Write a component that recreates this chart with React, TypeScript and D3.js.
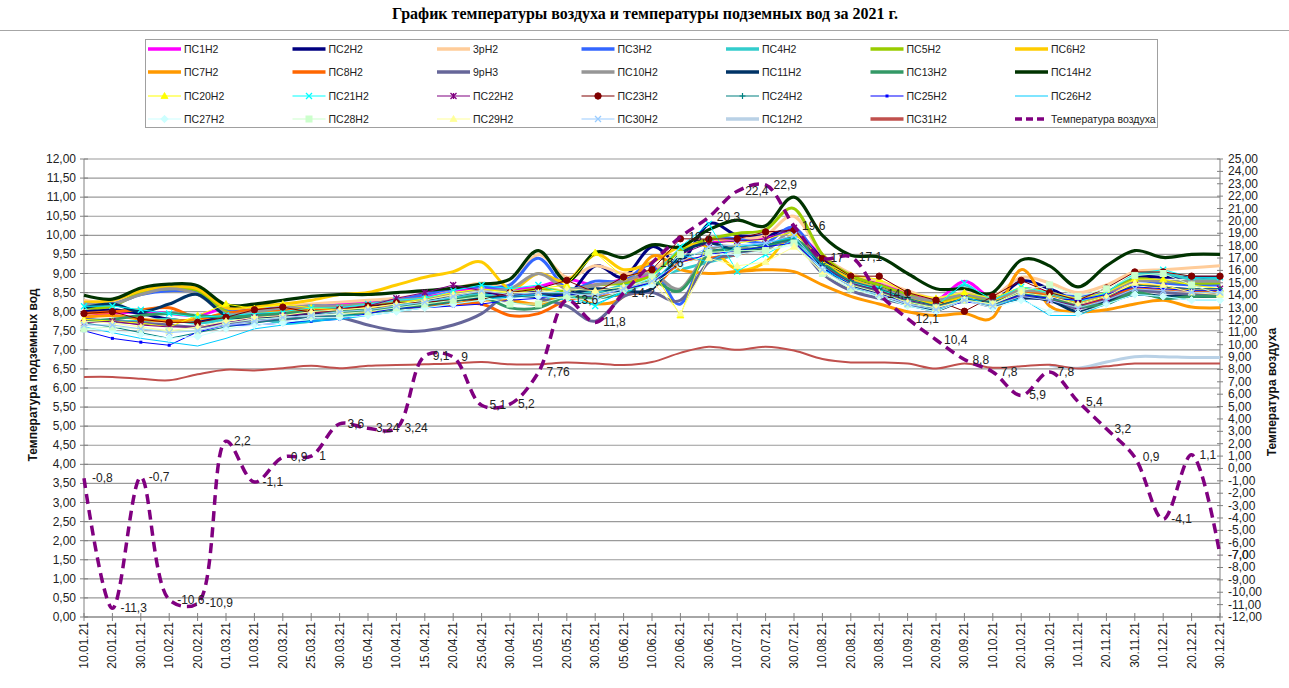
import React from 'react';
import * as d3 from 'd3';

const categories = ["10.01.21","20.01.21","30.01.21","10.02.21","20.02.21","01.03.21","10.03.21","20.03.21","25.03.21","30.03.21","05.04.21","10.04.21","15.04.21","20.04.21","25.04.21","30.04.21","10.05.21","20.05.21","30.05.21","05.06.21","10.06.21","20.06.21","30.06.21","10.07.21","20.07.21","30.07.21","10.08.21","20.08.21","30.08.21","10.09.21","20.09.21","30.09.21","10.10.21","20.10.21","30.10.21","10.11.21","20.11.21","30.11.21","10.12.21","20.12.21","30.12.21"];

const airTemp = [-0.8,-11.3,-0.7,-10.6,-10.9,2.2,-1.1,0.9,1,3.6,3.24,3.24,9.1,9,5.1,5.2,7.76,13.6,11.8,14.2,16.6,18.7,20.3,22.4,22.9,19.6,17,17.1,14.1,12.1,10.4,8.8,7.8,5.9,7.8,5.4,3.2,0.9,-4.1,1.1,-7.0];
const airLabels = ["-0,8","-11,3","-0,7","-10,6","-10,9","2,2","-1,1","0,9","1","3,6","3,24","3,24","9,1","9","5,1","5,2","7,76","13,6","11,8","14,2","16,6","18,7","20,3","22,4","22,9","19,6","17","17,1","14,1","12,1","10,4","8,8","7,8","5,9","7,8","5,4","3,2","0,9","-4,1","1,1","-7,0"];

const ps1 = [7.85,7.95,8.0,7.95,7.9,8.1,8.1,8.15,8.1,8.2,8.25,8.3,8.4,8.55,8.6,8.6,8.65,8.85,8.7,8.85,9.0,9.6,9.8,9.9,9.95,10.1,9.45,8.95,8.75,8.5,8.3,8.8,8.35,8.6,8.5,8.35,8.45,8.85,8.8,8.75,8.75];
const ps2 = [8.0,8.05,7.95,7.8,7.75,7.9,7.95,8.0,8.05,8.1,8.15,8.2,8.3,8.4,8.5,8.45,8.5,8.4,9.2,8.9,9.7,9.3,10.3,10.0,10.0,10.1,9.4,8.9,8.7,8.4,8.2,8.4,8.25,8.8,8.6,8.3,8.5,8.9,8.9,8.9,8.9];
const p3r = [8.3,8.25,8.5,8.6,8.55,8.05,8.1,8.15,8.2,8.25,8.3,8.35,8.45,8.6,8.75,8.7,9.5,8.9,9.2,9.0,9.1,9.6,9.9,9.9,10.0,10.5,9.5,9.0,8.8,8.55,8.35,8.5,8.4,8.9,8.75,8.5,8.7,9.05,9.1,9.15,9.2];
const ps3 = [8.2,8.2,8.45,8.55,8.5,8.05,8.05,8.1,8.15,8.15,8.2,8.3,8.45,8.6,8.65,8.7,9.4,8.6,8.8,8.8,9.2,8.2,9.8,9.9,9.8,10.2,9.3,8.85,8.6,8.35,8.2,8.4,8.3,8.55,8.45,8.4,8.5,8.8,8.75,8.7,8.7];
const ps4 = [7.8,7.75,7.75,7.8,7.7,7.8,7.85,7.7,7.75,7.85,8.0,8.15,8.25,8.35,8.45,8.3,8.2,8.6,8.5,8.7,8.9,9.1,9.3,9.5,9.7,9.9,9.3,8.8,8.6,8.35,8.15,8.7,8.2,8.6,8.45,8.3,8.5,8.95,9.0,8.85,8.85];
const ps5 = [8.1,8.15,8.5,8.6,8.55,8.0,8.0,8.05,8.1,8.15,8.2,8.25,8.35,8.45,8.55,8.5,8.6,8.55,8.7,8.75,8.95,9.6,9.9,10.05,10.15,10.7,9.5,8.95,8.7,8.45,8.25,8.4,8.35,8.55,8.5,8.3,8.5,8.85,8.8,8.75,8.75];
const ps6 = [8.25,8.3,8.55,8.65,8.6,8.1,8.15,8.2,8.3,8.45,8.5,8.7,8.9,9.05,9.3,8.6,9.0,8.8,9.5,9.1,9.3,9.7,9.7,9.1,9.3,10.0,9.3,8.85,8.6,8.35,8.2,8.35,8.25,8.6,8.4,8.25,8.4,8.7,8.65,8.55,8.55];
const ps7 = [7.85,7.9,7.8,7.75,7.8,7.95,8.0,8.0,8.05,8.0,8.0,8.1,8.15,8.2,8.3,8.3,8.2,8.45,8.2,8.4,9.45,9.1,9.0,9.05,9.1,9.05,8.7,8.4,8.2,8.0,7.9,7.95,7.85,9.1,8.15,8.0,8.05,8.2,8.3,8.12,8.1];
const ps8 = [7.95,8.0,8.05,8.1,7.85,7.95,8.05,8.05,8.05,8.05,8.1,8.1,8.15,8.2,8.2,7.9,7.95,8.3,8.4,8.45,8.6,9.3,9.4,9.5,9.7,9.9,9.2,8.7,8.55,8.3,8.1,8.3,8.2,8.5,8.4,8.15,8.35,8.6,8.55,8.5,8.5];
const p9r = [7.8,7.75,7.7,7.65,7.6,7.7,7.75,7.8,7.85,7.85,7.65,7.5,7.5,7.65,7.95,8.5,8.35,8.15,7.75,8.4,8.5,8.3,9.3,9.5,9.7,9.8,9.0,8.55,8.35,8.2,8.05,8.3,8.15,8.4,8.3,8.1,8.3,8.55,8.5,8.45,8.45];
const ps10 = [8.2,8.2,8.45,8.6,8.45,7.95,8.0,8.1,8.15,8.15,8.2,8.3,8.35,8.45,8.55,8.6,9.0,8.6,8.7,8.8,9.0,8.6,9.6,9.7,9.6,10.1,9.2,8.8,8.6,8.4,8.3,8.45,8.35,8.55,8.5,8.3,8.5,8.8,8.8,8.8,8.8];
const ps11 = [8.1,8.2,8.0,8.2,8.45,7.9,7.85,7.9,7.95,8.0,8.05,8.1,8.2,8.3,8.35,8.4,8.4,8.45,8.6,8.55,8.6,9.5,9.8,9.6,9.7,9.9,9.2,8.7,8.45,8.3,8.05,8.3,8.2,8.35,8.3,8.0,8.25,8.45,8.4,8.4,8.4];
const ps13 = [7.75,7.8,7.9,7.95,7.9,7.85,7.9,7.95,8.0,8.0,8.05,8.1,8.2,8.3,8.4,8.1,8.1,8.4,8.35,8.5,8.8,8.55,9.5,9.6,9.7,9.9,9.3,8.75,8.55,8.3,8.1,8.3,8.2,8.45,8.35,8.15,8.2,8.5,8.35,8.4,8.4];
const ps14 = [8.43,8.33,8.62,8.72,8.68,8.18,8.2,8.3,8.4,8.45,8.45,8.5,8.55,8.62,8.72,8.85,9.6,8.8,9.55,9.42,9.75,9.7,10.15,10.4,10.25,11.0,10.0,9.48,9.43,9.0,8.6,8.6,8.5,9.35,9.2,8.65,9.2,9.6,9.42,9.5,9.5];
const ps20 = [7.8,7.75,7.7,7.6,7.9,8.2,8.08,8.2,8.1,8.05,8.1,8.2,8.35,8.5,8.6,8.5,8.6,8.7,9.55,8.9,9.1,7.9,9.9,9.8,9.9,10.1,9.3,8.95,8.85,8.5,8.35,8.5,8.35,8.65,8.5,8.35,8.5,8.85,8.85,8.7,8.6];
const ps21 = [8.14,8.15,8.05,7.95,7.85,7.9,7.95,8.0,8.1,8.1,8.2,8.3,8.35,8.55,8.7,8.6,8.7,8.45,8.15,8.55,8.9,9.7,10.3,9.05,9.5,9.9,9.1,8.75,8.6,8.3,8.15,8.75,8.3,8.65,8.5,8.25,8.5,9.0,9.1,8.9,8.9];
const ps22 = [7.7,7.75,7.65,7.6,7.6,7.7,7.85,7.9,7.95,8.05,8.15,8.35,8.5,8.7,8.55,8.4,8.45,8.5,8.45,8.6,8.75,9.5,9.8,9.85,9.9,10.2,9.2,8.75,8.55,8.3,8.15,8.35,8.25,8.4,8.3,8.15,8.35,8.7,8.65,8.6,8.6];
const ps23 = [7.95,8.0,7.8,7.72,7.72,7.85,8.05,8.12,7.98,8.05,8.15,8.23,8.25,8.3,8.32,8.5,8.6,8.82,8.5,8.91,9.1,9.91,9.9,9.91,10.09,10.13,9.39,8.93,8.93,8.5,8.3,8.01,8.4,8.82,8.5,8.3,8.62,9.04,9.04,8.93,8.93];
const ps24 = [7.7,7.6,7.45,7.3,7.45,7.6,7.7,7.8,7.85,7.9,7.95,8.05,8.15,8.25,8.4,8.35,8.45,8.5,8.45,8.65,8.8,9.4,9.6,9.7,9.75,9.9,9.25,8.8,8.6,8.35,8.15,8.35,8.25,8.5,8.4,8.2,8.4,8.7,8.65,8.6,8.6];
const ps25 = [7.5,7.3,7.2,7.12,7.47,7.65,7.65,7.7,7.75,7.8,7.95,8.1,8.1,8.15,8.2,8.3,8.35,8.45,8.4,8.6,8.75,9.3,9.5,9.6,9.7,9.8,9.15,8.7,8.5,8.2,8.1,8.25,8.2,8.45,8.35,8.3,8.45,8.65,8.6,8.55,8.55];
const ps26 = [7.6,7.45,7.3,7.2,7.1,7.3,7.55,7.65,7.75,7.8,7.9,8.0,8.1,8.2,8.3,8.4,8.45,8.3,8.2,8.5,8.75,9.5,9.3,9.7,9.8,9.95,9.2,8.65,8.4,8.15,8.0,8.4,8.15,8.35,7.9,7.9,8.2,8.45,8.4,8.3,8.3];
const ps27 = [7.55,7.5,7.4,7.3,7.35,7.55,7.65,7.7,7.85,7.85,7.9,8.0,8.1,8.2,8.3,8.35,8.4,8.35,8.3,8.55,8.7,9.2,9.5,9.5,9.6,9.75,9.1,8.6,8.4,8.15,8.0,8.3,8.1,8.3,8.0,7.95,8.2,8.45,8.4,8.3,8.3];
const ps28 = [7.55,7.6,7.55,7.5,7.5,7.7,7.8,7.85,7.9,7.95,8.0,8.1,8.2,8.3,8.4,8.2,8.2,8.4,8.45,8.6,8.9,9.5,9.55,9.6,9.6,9.8,9.0,8.6,8.45,8.2,8.1,8.3,8.2,8.55,8.7,8.4,8.6,8.95,9.0,8.7,8.45];
const ps29 = [7.75,7.7,7.6,7.5,7.6,7.75,7.85,7.9,8.0,8.05,8.1,8.2,8.3,8.45,8.55,8.5,8.5,8.6,8.55,8.65,8.8,7.95,9.4,9.2,9.3,9.7,9.05,8.7,8.5,8.25,8.1,8.3,8.2,8.5,8.4,8.2,8.4,8.75,8.7,8.5,8.45];
const ps30 = [7.65,7.65,7.55,7.45,7.5,7.65,7.75,7.85,7.9,8.0,8.05,8.15,8.25,8.4,8.55,8.45,8.5,8.5,8.4,8.6,8.8,9.3,9.7,9.75,9.8,10.0,9.1,8.65,8.45,8.2,8.05,8.3,8.15,8.4,8.3,8.1,8.3,8.6,8.55,8.5,8.5];
const ps12 = [null,null,null,null,null,null,null,null,null,null,null,null,null,null,null,null,null,null,null,null,null,null,null,null,null,null,null,null,null,null,null,null,null,null,6.6,6.52,6.68,6.82,6.82,6.8,6.8];
const ps31 = [6.29,6.29,6.24,6.2,6.36,6.48,6.46,6.52,6.58,6.52,6.58,6.6,6.62,6.64,6.68,6.62,6.62,6.67,6.64,6.6,6.68,6.92,7.08,7.0,7.08,6.98,6.76,6.67,6.67,6.64,6.51,6.64,6.53,6.57,6.61,6.51,6.57,6.64,6.64,6.64,6.64];

const leftTicks = d3.range(0, 12.01, 0.5);
const rightTicks = d3.range(-12, 25.01, 1);

type Marker = 'none' | 'tri' | 'x' | 'star' | 'circle' | 'plus' | 'dot' | 'diamond' | 'square';
interface S { name: string; data: (number | null)[]; color: string; width: number; smooth: boolean; marker: Marker; }

const series: S[] = [
  { name: 'ПС1Н2', data: ps1, color: '#FF00FF', width: 3, smooth: true, marker: 'none' },
  { name: 'ПС2Н2', data: ps2, color: '#000080', width: 3, smooth: true, marker: 'none' },
  { name: '3рН2', data: p3r, color: '#FFCC99', width: 3, smooth: true, marker: 'none' },
  { name: 'ПС3Н2', data: ps3, color: '#3366FF', width: 3, smooth: true, marker: 'none' },
  { name: 'ПС4Н2', data: ps4, color: '#33CCCC', width: 3, smooth: true, marker: 'none' },
  { name: 'ПС5Н2', data: ps5, color: '#99CC00', width: 3, smooth: true, marker: 'none' },
  { name: 'ПС6Н2', data: ps6, color: '#FFCC00', width: 3, smooth: true, marker: 'none' },
  { name: 'ПС7Н2', data: ps7, color: '#FF9900', width: 3, smooth: true, marker: 'none' },
  { name: 'ПС8Н2', data: ps8, color: '#FF6600', width: 3, smooth: true, marker: 'none' },
  { name: '9рН3', data: p9r, color: '#666699', width: 3, smooth: true, marker: 'none' },
  { name: 'ПС10Н2', data: ps10, color: '#969696', width: 3, smooth: true, marker: 'none' },
  { name: 'ПС11Н2', data: ps11, color: '#003366', width: 3, smooth: true, marker: 'none' },
  { name: 'ПС13Н2', data: ps13, color: '#339966', width: 3, smooth: true, marker: 'none' },
  { name: 'ПС14Н2', data: ps14, color: '#003300', width: 3.2, smooth: true, marker: 'none' },
  { name: 'ПС20Н2', data: ps20, color: '#FFFF00', width: 1, smooth: false, marker: 'tri' },
  { name: 'ПС21Н2', data: ps21, color: '#00FFFF', width: 1, smooth: false, marker: 'x' },
  { name: 'ПС22Н2', data: ps22, color: '#800080', width: 1, smooth: false, marker: 'star' },
  { name: 'ПС23Н2', data: ps23, color: '#800000', width: 1, smooth: false, marker: 'circle' },
  { name: 'ПС24Н2', data: ps24, color: '#008080', width: 1, smooth: false, marker: 'plus' },
  { name: 'ПС25Н2', data: ps25, color: '#0000FF', width: 1, smooth: false, marker: 'dot' },
  { name: 'ПС26Н2', data: ps26, color: '#00CCFF', width: 1, smooth: false, marker: 'none' },
  { name: 'ПС27Н2', data: ps27, color: '#CCFFFF', width: 1, smooth: false, marker: 'diamond' },
  { name: 'ПС28Н2', data: ps28, color: '#CCFFCC', width: 1, smooth: false, marker: 'square' },
  { name: 'ПС29Н2', data: ps29, color: '#FFFF99', width: 1, smooth: false, marker: 'tri' },
  { name: 'ПС30Н2', data: ps30, color: '#99CCFF', width: 1, smooth: false, marker: 'x' },
  { name: 'ПС12Н2', data: ps12, color: '#B9D1E6', width: 3, smooth: true, marker: 'none' },
  { name: 'ПС31Н2', data: ps31, color: '#C0504D', width: 2, smooth: true, marker: 'none' },
];

const PL = 84, PR = 1220, PT = 159, PB = 617;
const FONT = "'Liberation Sans', Arial, sans-serif";

function drawMarker(m: Marker, cx: number, cy: number, color: string, key: string) {
  const s = 3;
  switch (m) {
    case 'tri': return <path key={key} d={`M${cx},${cy - s - 0.5}L${cx + s + 0.5},${cy + s - 0.5}L${cx - s - 0.5},${cy + s - 0.5}Z`} fill={color} stroke={color} strokeWidth={0.8} />;
    case 'x': return <path key={key} d={`M${cx - s},${cy - s}L${cx + s},${cy + s}M${cx - s},${cy + s}L${cx + s},${cy - s}`} stroke={color} strokeWidth={1.3} fill="none" />;
    case 'star': return <path key={key} d={`M${cx - s},${cy - s}L${cx + s},${cy + s}M${cx - s},${cy + s}L${cx + s},${cy - s}M${cx},${cy - s}L${cx},${cy + s}`} stroke={color} strokeWidth={1.3} fill="none" />;
    case 'circle': return <circle key={key} cx={cx} cy={cy} r={3.2} fill={color} stroke={color} />;
    case 'plus': return <path key={key} d={`M${cx - s},${cy}L${cx + s},${cy}M${cx},${cy - s}L${cx},${cy + s}`} stroke={color} strokeWidth={1.2} fill="none" />;
    case 'dot': return <rect key={key} x={cx - 1.5} y={cy - 1.5} width={3} height={3} fill={color} />;
    case 'diamond': return <path key={key} d={`M${cx},${cy - s - 0.7}L${cx + s + 0.7},${cy}L${cx},${cy + s + 0.7}L${cx - s - 0.7},${cy}Z`} fill={color} stroke={color} />;
    case 'square': return <rect key={key} x={cx - s} y={cy - s} width={2 * s} height={2 * s} fill={color} stroke={color} />;
    default: return null;
  }
}

const fmt = (v: number) => v.toFixed(2).replace('.', ',');

export default function App() {
  const x = d3.scalePoint<string>().domain(categories).range([PL, PR]);
  const yL = d3.scaleLinear().domain([0, 12]).range([PB, PT]);
  const yR = d3.scaleLinear().domain([-12, 25]).range([PB, PT]);

  const smoothLine = d3.line<number | null>()
    .defined(d => d !== null)
    .x((_, i) => x(categories[i]) as number)
    .y(d => yL(d as number))
    .curve(d3.curveCardinal.tension(0));
  const straightLine = d3.line<number | null>()
    .defined(d => d !== null)
    .x((_, i) => x(categories[i]) as number)
    .y(d => yL(d as number));
  const airLine = d3.line<number>()
    .x((_, i) => x(categories[i]) as number)
    .y(d => yR(d))
    .curve(d3.curveCatmullRom.alpha(0.5));

  const legendItems = [...series.map(s => ({ name: s.name, color: s.color, width: s.width, marker: s.marker, dashed: false })),
    { name: 'Температура воздуха', color: '#800080', width: 3.5, marker: 'none' as Marker, dashed: true }];
  const legRows = [49, 72, 96, 119];

  return (
    <div style={{ position: 'absolute', left: 0, top: 0 }}>
      <svg width={1289} height={688} style={{ display: 'block', fontFamily: FONT }}>
        <rect x={0} y={0} width={1289} height={688} fill="#ffffff" />
        <text x={645} y={19} textAnchor="middle" fontFamily="'Liberation Serif', 'Times New Roman', serif" fontWeight="bold" fontSize={16}>График температуры воздуха и температуры подземных вод за 2021 г.</text>
        <line x1={0} x2={1289} y1={30.5} y2={30.5} stroke="#a6a6a6" strokeWidth={1} />

        {/* legend */}
        <rect x={145.5} y={39.5} width={1012} height={88} fill="#fff" stroke="#a0a0a0" />
        {legendItems.map((it, k) => {
          const col = k % 7, row = Math.floor(k / 7);
          const sx = 148 + 144.5 * col, sy = legRows[row];
          return (
            <g key={it.name}>
              <line x1={sx} x2={sx + 33} y1={sy} y2={sy} stroke={it.color} strokeWidth={it.dashed ? 3.5 : (it.width >= 2 ? 3.5 : 1.2)} strokeDasharray={it.dashed ? '7,4' : undefined} />
              {drawMarker(it.marker, sx + 16.5, sy, it.color, 'm' + k)}
              <text x={sx + 36} y={sy + 4} fontSize={10.5} fill="#222">{it.name}</text>
            </g>
          );
        })}

        {/* gridlines */}
        {leftTicks.map(t => (
          <line key={'g' + t} x1={PL} x2={PR} y1={yL(t)} y2={yL(t)} stroke="#9a9a9a" strokeWidth={1.2} />
        ))}

        {/* axes */}
        <line x1={PL} x2={PL} y1={PT} y2={PB} stroke="#808080" />
        <line x1={PR} x2={PR} y1={PT} y2={PB} stroke="#808080" />
        <line x1={PL} x2={PR} y1={PB} y2={PB} stroke="#808080" />
        {leftTicks.map(t => (
          <g key={'lt' + t}>
            <line x1={PL - 4} x2={PL + 4} y1={yL(t)} y2={yL(t)} stroke="#808080" />
            <text x={76} y={yL(t) + 4} textAnchor="end" fontSize={12} fill="#222">{fmt(t)}</text>
          </g>
        ))}
        {rightTicks.map(t => (
          <g key={'rt' + t}>
            <line x1={PR - 3} x2={PR + 3} y1={yR(t)} y2={yR(t)} stroke="#808080" />
            <text x={1228} y={yR(t) + 4} textAnchor="start" fontSize={12} fill="#222">{fmt(t)}</text>
          </g>
        ))}
        {categories.map(c => (
          <g key={'xt' + c}>
            <line x1={x(c)} x2={x(c)} y1={PB - 4} y2={PB + 4} stroke="#808080" />
            <text transform={`translate(${(x(c) as number) + 4},${PB + 5}) rotate(-90)`} textAnchor="end" fontSize={12} fill="#222">{c}</text>
          </g>
        ))}

        <text transform={`translate(37,375) rotate(-90)`} textAnchor="middle" fontSize={12} fontWeight="bold" fill="#111">Температура подземных вод</text>
        <text transform={`translate(1276,392) rotate(-90)`} textAnchor="middle" fontSize={12} fontWeight="bold" fill="#111">Температура воздуха</text>

        {/* series */}
        {series.map(s => (
          <g key={s.name}>
            <path d={(s.smooth ? smoothLine : straightLine)(s.data) || ''} fill="none" stroke={s.color} strokeWidth={s.width} strokeLinejoin="round" />
            {s.marker !== 'none' && s.data.map((v, i) => v === null ? null : drawMarker(s.marker, x(categories[i]) as number, yL(v), s.color, s.name + i))}
          </g>
        ))}

        {/* air temperature */}
        <path d={airLine(airTemp) || ''} fill="none" stroke="#800080" strokeWidth={3.5} strokeDasharray="10,6" />
        {airTemp.map((v, i) => (
          <text key={'al' + i} x={(x(categories[i]) as number) + 8} y={yR(v) + 4} fontSize={12} fill="#222">{airLabels[i]}</text>
        ))}
      </svg>
    </div>
  );
}
